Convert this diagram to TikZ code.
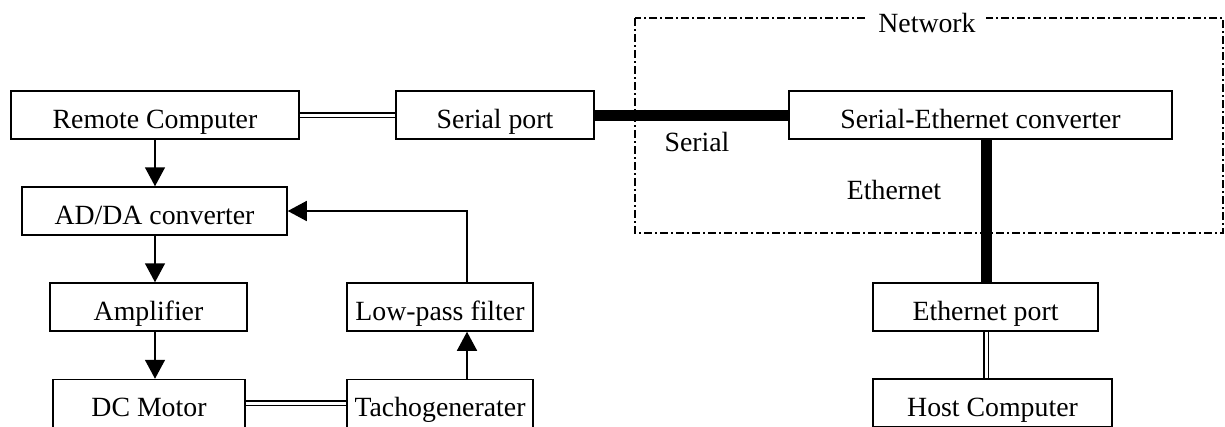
\documentclass[tikz,border=0pt]{standalone}
\usepackage{fontspec}
\setmainfont{Liberation Serif}
\usetikzlibrary{arrows.meta}
\begin{document}
\begin{tikzpicture}[x=1pt,y=-1pt,
  box/.style={draw,line width=1.5pt,rectangle,inner sep=0pt,minimum height=48pt,text height=37pt,text depth=11pt,font=\fontsize{27.8pt}{33pt}\selectfont},
  lbl/.style={inner sep=1pt,font=\fontsize{27.8pt}{33pt}\selectfont},
  arr/.style={line width=1.5pt,-{Triangle[width=20pt,length=19pt]}},
  dbl/.style={double,double distance=3pt,line width=1.8pt},
  thick line/.style={line width=11pt},
  netbox/.style={line width=1.3pt,dash pattern=on 8pt off 3pt on 2pt off 3pt}]
\useasboundingbox (0,0) rectangle (1225,426);
% nodes
\node[box,minimum width=288pt] (remote) at (155,115) {Remote Computer};
\node[box,minimum width=265pt] (adda) at (154.5,211) {AD/DA converter};
\node[box,minimum width=197pt] (amp) at (148.5,307) {Amplifier};
\node[box,minimum width=192pt] (dc) at (149,403.5) {DC Motor};
\node[box,minimum width=186pt] (lpf) at (440,307) {Low-pass filter};
\node[box,minimum width=186pt] (tacho) at (440,403.5) {Tachogenerater};
\node[box,minimum width=198pt] (serial) at (495,115) {Serial port};
\node[box,minimum width=383pt] (sec) at (980.5,115) {Serial-Ethernet converter};
\node[box,minimum width=225pt] (eport) at (985.5,307) {Ethernet port};
\node[box,minimum width=239pt] (host) at (992.5,403) {Host Computer};
\coordinate (ax) at (155,0);
\coordinate (fb) at (467,0);
\coordinate (ex) at (986,0);
% network box
\coordinate (nw) at (635,18);
\coordinate (se) at (1223,233);
\draw[netbox] (nw) rectangle (se);
\node[lbl,fill=white,inner xsep=10pt] (net) at (927,22.5) {Network};
\node[lbl] (serlbl) at (697,142) {Serial};
\node[lbl] (ethlbl) at (894,190) {Ethernet};
% connectors
\draw[arr] (remote.south -| ax) -- (adda.north -| ax);
\draw[arr] (adda.south -| ax) -- (amp.north -| ax);
\draw[arr] (amp.south -| ax) -- (dc.north -| ax);
\draw[arr] (tacho.north -| fb) -- (lpf.south -| fb);
\draw[arr] (lpf.north -| fb) |- (adda.east);
\draw[dbl] (dc.east |- 0,403) -- (tacho.west |- 0,403);
\draw[dbl] (remote.east) -- (serial.west);
\draw[thick line] (serial.east) -- (sec.west);
\draw[thick line] (sec.south -| ex) -- (eport.north -| ex);
\draw[dbl] (eport.south -| ex) -- (host.north -| ex);
\end{tikzpicture}
\end{document}
